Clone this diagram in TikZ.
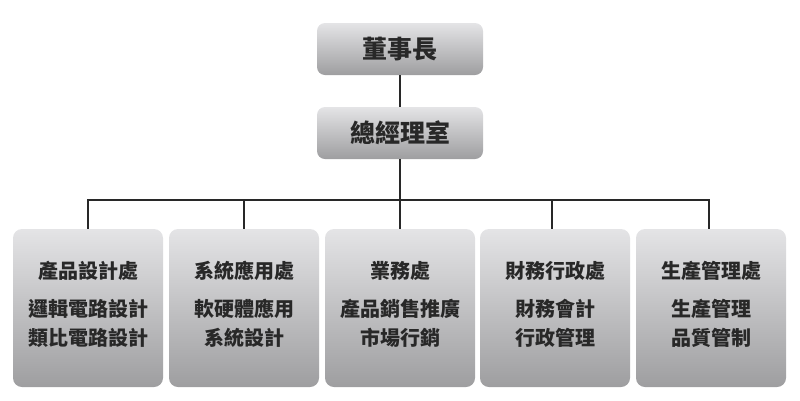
\documentclass[tikz,border=0pt]{standalone}
\usepackage{fontspec}
\newfontfamily\cjk{Noto Sans CJK TC}
\usetikzlibrary{calc}
\definecolor{boxtop}{RGB}{228, 228, 230}
\definecolor{boxbot}{RGB}{158, 158, 160}
\definecolor{ink}{RGB}{40, 40, 40}
\tikzset{
  topbox/.style={rounded corners=8pt, top color=boxtop, bottom color=boxbot,
    minimum width=166pt, minimum height=52pt, inner sep=0pt,
    font=\cjk\bfseries\fontsize{25}{28}\selectfont, text=ink},
  deptbox/.style={rounded corners=9pt, top color=boxtop, bottom color=boxbot,
    minimum width=150pt, minimum height=158pt, inner sep=0pt},
  depttext/.style={align=center, text=ink,
    font=\cjk\bfseries\fontsize{20}{29}\selectfont},
  link/.style={draw=ink, line width=1.5pt}
}
\begin{document}
\begin{tikzpicture}[x=1pt, y=-1pt]
\useasboundingbox (0,0) rectangle (800,400);
\node[topbox] (chair) at (400, 49) {董事長};
\node[topbox] (gm) at (400, 133) {總經理室};
\coordinate (bus) at (400, 200);
% departments
\node[deptbox] (dept1) at (88, 308) {};
\node[deptbox] (dept2) at (244, 308) {};
\node[deptbox] (dept3) at (400, 308) {};
\node[deptbox] (dept4) at (555, 308) {};
\node[deptbox] (dept5) at (711, 308) {};
\node[depttext, yshift=4pt] (txt1) at (dept1.center) {產品設計處\\[9pt]邏輯電路設計\\類比電路設計};
\node[depttext, yshift=4pt] (txt2) at (dept2.center) {系統應用處\\[9pt]軟硬體應用\\系統設計};
\node[depttext, yshift=4pt] (txt3) at (dept3.center) {業務處\\[9pt]產品銷售推廣\\市場行銷};
\node[depttext, yshift=4pt] (txt4) at (dept4.center) {財務行政處\\[9pt]財務會計\\行政管理};
\node[depttext, yshift=4pt] (txt5) at (dept5.center) {生產管理處\\[9pt]生產管理\\品質管制};
% connectors
\draw[link] (chair) -- (gm);
\draw[link] (gm) -- (bus);
\draw[link] (dept1.north) |- (bus) -| ([xshift=-2pt]dept5.north);
\draw[link] (dept2.north) -- (dept2.north |- bus);
\draw[link] (dept3.north) -- (bus);
\draw[link] ([xshift=-3pt]dept4.north) -- ([xshift=-3pt]dept4.north |- bus);
\end{tikzpicture}
\end{document}
